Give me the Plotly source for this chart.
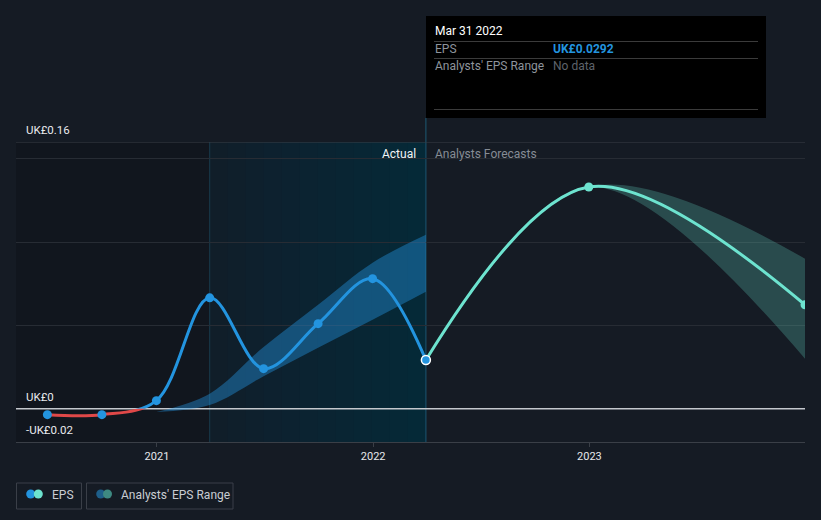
import pandas as pd
import plotly.graph_objects as go

# ── data ─────────────────────────────────────────────────────────────────────
actual_dates = ["2020-06-30", "2020-09-30", "2020-12-31", "2021-03-31",
                "2021-06-30", "2021-09-30", "2021-12-31", "2022-03-31"]
actual_eps = [-0.0036, -0.0036, 0.0048, 0.0665, 0.024, 0.051, 0.078, 0.0292]

forecast_dates = ["2022-03-31", "2022-12-31", "2023-12-31"]
forecast_eps = [0.0292, 0.133, 0.0623]

range_dates = ["2020-12-31", "2021-03-31", "2021-06-30", "2021-09-30",
               "2021-12-31", "2022-03-31"]
range_low = [-0.002, 0.0022, 0.0195, 0.0366, 0.0534, 0.0702]
range_high = [-0.002, 0.009, 0.037, 0.0624, 0.0876, 0.1044]

fc_range_dates = ["2022-03-31", "2022-12-31", "2023-12-31"]
fc_range_low = [0.0292, 0.133, 0.030]
fc_range_high = [0.0292, 0.133, 0.090]

year_ticks = ["2021-01-01", "2022-01-01", "2023-01-01"]
year_labels = ["2021", "2022", "2023"]

X_RANGE = ["2020-05-08", "2023-12-31"]
Y_RANGE = [-0.02, 0.16]
PAST_START = "2021-03-31"
LAST_ACTUAL = "2022-03-31"

# ── style ────────────────────────────────────────────────────────────────────
W, H = 821, 520
L, R, T, B = 16, 16, 142, 78
BG = "#151b24"
BLUE = "#2394df"
TEAL = "#6de3cf"
RED = "#e04848"
FONT = "Roboto, 'Open Sans', sans-serif"

def px_x(p):
    return (p - L) / (W - L - R)

def px_y(p):
    return (H - B - p) / (H - T - B)

zero_frac = (0 - Y_RANGE[0]) / (Y_RANGE[1] - Y_RANGE[0])

fig = go.Figure()

# analyst ranges (main axis)
fig.add_trace(go.Scatter(x=range_dates, y=range_low, mode="lines",
                         line=dict(width=0, shape="spline"), hoverinfo="skip",
                         showlegend=False))
fig.add_trace(go.Scatter(x=range_dates, y=range_high, mode="lines",
                         line=dict(width=0, shape="spline"), fill="tonexty",
                         fillcolor="rgba(35,148,223,0.42)", hoverinfo="skip",
                         showlegend=False))
fig.add_trace(go.Scatter(x=fc_range_dates, y=fc_range_low, mode="lines",
                         line=dict(width=0, shape="spline"), hoverinfo="skip",
                         showlegend=False))
fig.add_trace(go.Scatter(x=fc_range_dates, y=fc_range_high, mode="lines",
                         line=dict(width=0, shape="spline"), fill="tonexty",
                         fillcolor="rgba(110,229,209,0.24)", hoverinfo="skip",
                         showlegend=False))

# negative part of EPS in red (clipped to below-zero strip)
fig.add_trace(go.Scatter(x=actual_dates, y=actual_eps, mode="lines+markers",
                         line=dict(color=RED, width=3, shape="spline"),
                         marker=dict(color=BLUE, size=9),
                         yaxis="y3", showlegend=False))

# positive part of EPS in blue (clipped to above-zero strip)
outline_c = ["rgba(0,0,0,0)"] * (len(actual_eps) - 1) + ["white"]
outline_w = [0] * (len(actual_eps) - 1) + [1.5]
fig.add_trace(go.Scatter(x=forecast_dates, y=forecast_eps, mode="lines+markers",
                         line=dict(color=TEAL, width=3, shape="spline"),
                         marker=dict(color=TEAL, size=9),
                         yaxis="y2", showlegend=False))
fig.add_trace(go.Scatter(x=actual_dates, y=actual_eps, mode="lines+markers",
                         line=dict(color=BLUE, width=3, shape="spline"),
                         marker=dict(color=BLUE, size=9,
                                     line=dict(color=outline_c, width=outline_w)),
                         yaxis="y2", showlegend=False))

# ── shapes ───────────────────────────────────────────────────────────────────
shapes = []
# darker area before the past year
shapes.append(dict(type="rect", xref="x", yref="paper", x0=X_RANGE[0], x1=PAST_START,
                   y0=0, y1=1, fillcolor="rgba(0,0,0,0.16)", line_width=0, layer="below"))
# past-year highlight: base colour plus stacked translucent layers -> soft gradient
shapes.append(dict(type="rect", xref="x", yref="paper", x0=PAST_START, x1=LAST_ACTUAL,
                   y0=0, y1=1, fillcolor="#101e29", line_width=0, layer="below"))
n = 12
edges = pd.date_range(pd.Timestamp(PAST_START), pd.Timestamp(LAST_ACTUAL), periods=n + 1)
for i in range(1, n):
    shapes.append(dict(type="rect", xref="x", yref="paper", x0=edges[i], x1=LAST_ACTUAL,
                       y0=0, y1=1, fillcolor="rgba(0,70,100,0.045)", line_width=0,
                       layer="below"))
shapes.append(dict(type="line", xref="x", yref="paper", x0=PAST_START, x1=PAST_START,
                   y0=0, y1=1, line=dict(color="#183a4c", width=1), layer="below"))
shapes.append(dict(type="line", xref="x", yref="paper", x0=LAST_ACTUAL, x1=LAST_ACTUAL,
                   y0=0, y1=px_y(118), line=dict(color="#1d5a74", width=1), layer="below"))
# horizontal reference lines
for yv, c, w in [(Y_RANGE[1], "#3a3f47", 1), (0, "#c4c8cd", 1.5)]:
    shapes.append(dict(type="line", xref="paper", yref="y", x0=0, x1=1, y0=yv, y1=yv,
                       line=dict(color=c, width=w), layer="below"))

# tooltip box
shapes.append(dict(type="rect", xref="paper", yref="paper", x0=px_x(426), x1=px_x(766),
                   y0=px_y(118), y1=px_y(16), fillcolor="#000000", line_width=0,
                   layer="above"))
for py in [41.5, 58.5, 109.5]:
    shapes.append(dict(type="line", xref="paper", yref="paper", x0=px_x(434), x1=px_x(758),
                       y0=px_y(py), y1=px_y(py), line=dict(color="#3b3b3b", width=1),
                       layer="above"))

# legend boxes and icons
for x0, x1 in [(16.5, 81.5), (86.5, 233)]:
    shapes.append(dict(type="rect", xref="paper", yref="paper", x0=px_x(x0), x1=px_x(x1),
                       y0=px_y(509), y1=px_y(483), line=dict(color="#3a3f48", width=1),
                       fillcolor="rgba(0,0,0,0)"))
for cx, c in [(30.7, BLUE), (38.3, TEAL), (100.7, "#1e5f8a"), (107.5, "#3e8a82")]:
    shapes.append(dict(type="circle", xref="paper", yref="paper",
                       x0=px_x(cx - 4.5), x1=px_x(cx + 4.5),
                       y0=px_y(494 + 4.5), y1=px_y(494 - 4.5),
                       fillcolor=c, line_width=0))

# ── annotations ──────────────────────────────────────────────────────────────
ann = []
for yv, txt in [(0.16, "UK£0.16"), (0, "UK£0"), (-0.02, "-UK£0.02")]:
    ann.append(dict(x=px_x(24), xref="paper", y=yv, yref="y", text=txt, showarrow=False,
                    xanchor="left", yanchor="middle", yshift=12,
                    font=dict(size=11.5, color="#e8eaed")))
ann.append(dict(x=LAST_ACTUAL, xref="x", y=Y_RANGE[1], yref="y", text="Actual",
                showarrow=False, xanchor="right", yanchor="middle", xshift=-8, yshift=-12,
                font=dict(size=12, color="#f2f3f5")))
ann.append(dict(x=LAST_ACTUAL, xref="x", y=Y_RANGE[1], yref="y", text="Analysts Forecasts",
                showarrow=False, xanchor="left", yanchor="middle", xshift=7, yshift=-12,
                font=dict(size=12, color="#868c95")))

def tip(x, y, text, color, size=12, bold=False):
    ann.append(dict(x=px_x(x), xref="paper", y=px_y(y), yref="paper",
                    text="<b>%s</b>" % text if bold else text, showarrow=False,
                    xanchor="left", yanchor="middle", font=dict(size=size, color=color)))

tip(433, 31.5, "Mar 31 2022", "#ffffff")
tip(433, 49, "EPS", "#8e949c")
tip(551, 49, "UK£0.0292", BLUE, bold=True)
tip(433, 66, "Analysts' EPS Range", "#8e949c")
tip(551, 66, "No data", "#5e636b")
tip(50, 495, "EPS", "#c9cdd3")
tip(119, 495, "Analysts' EPS Range", "#c9cdd3")

fig.update_layout(
    width=W, height=H,
    margin=dict(l=L, r=R, t=T, b=B),
    paper_bgcolor=BG, plot_bgcolor="rgba(0,0,0,0)",
    font=dict(family=FONT, color="#e0e3e7"),
    showlegend=False, hovermode=False,
    shapes=shapes, annotations=ann,
    xaxis=dict(type="date", range=X_RANGE, anchor="y", showgrid=False, zeroline=False,
               tickvals=year_ticks, ticktext=year_labels, ticks="outside", ticklen=4,
               tickcolor="#3a3f47", tickfont=dict(size=11, color="#e6e8eb"),
               showline=True, linecolor="#3a3f47", linewidth=1),
    yaxis=dict(range=Y_RANGE, domain=[0, 1], tickvals=[0.05, 0.10, 0.15],
               showticklabels=False, gridcolor="#272c34", gridwidth=1, zeroline=False),
    yaxis2=dict(range=[0, Y_RANGE[1]], domain=[zero_frac, 1], anchor="x",
                visible=False, showgrid=False),
    yaxis3=dict(range=[Y_RANGE[0], 0], domain=[0, zero_frac], anchor="x",
                visible=False, showgrid=False),
)

fig.write_html("out.html", config={"displayModeBar": False},
               post_script="document.body.style.margin='0';")
